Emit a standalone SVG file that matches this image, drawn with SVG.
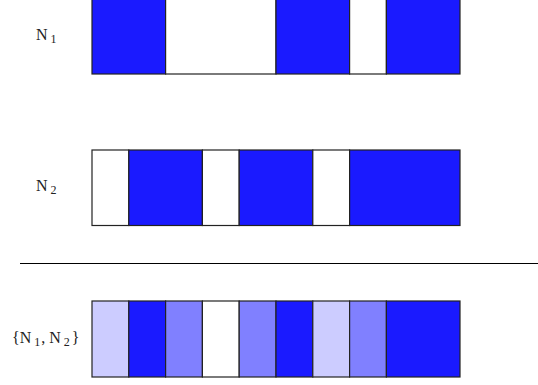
<svg xmlns="http://www.w3.org/2000/svg" width="538" height="385" viewBox="0 0 538 385">
<style>
.c rect{stroke:#222;stroke-width:1.2}
.b{fill:#1a1aff}.w{fill:#fff}.m{fill:#8080ff}.l{fill:#ccccff}
text{font-family:"Liberation Serif","DejaVu Serif",serif;font-size:16px;fill:#222}
.s{font-size:12px}
</style>
<rect width="538" height="385" fill="#fff"/>
<g id="row1" class="c">
<text x="36" y="40">N<tspan class="s" dx="3" dy="3">1</tspan></text>
<rect class="b" x="92" y="-2" width="73.6" height="76"/>
<rect class="w" x="165.6" y="-2" width="110.4" height="76"/>
<rect class="b" x="276" y="-2" width="73.6" height="76"/>
<rect class="w" x="349.6" y="-2" width="36.8" height="76"/>
<rect class="b" x="386.4" y="-2" width="73.6" height="76"/>
</g>
<g id="row2" class="c">
<text x="36" y="191">N<tspan class="s" dx="3" dy="3">2</tspan></text>
<rect class="w" x="92" y="150" width="36.8" height="75.5"/>
<rect class="b" x="128.8" y="150" width="73.6" height="75.5"/>
<rect class="w" x="202.4" y="150" width="36.8" height="75.5"/>
<rect class="b" x="239.2" y="150" width="73.6" height="75.5"/>
<rect class="w" x="312.8" y="150" width="36.8" height="75.5"/>
<rect class="b" x="349.6" y="150" width="110.4" height="75.5"/>
</g>
<g id="connectors">
<line x1="20" y1="263.5" x2="538" y2="263.5" stroke="#000" stroke-width="1.2"/>
</g>
<g id="row3" class="c">
<text x="12" y="343">{N<tspan class="s" dx="3" dy="3">1</tspan><tspan dx="1" dy="-3">, N</tspan><tspan class="s" dx="3" dy="3">2</tspan><tspan dx="2" dy="-3">}</tspan></text>
<rect class="l" x="92" y="301" width="36.8" height="76"/>
<rect class="b" x="128.8" y="301" width="36.8" height="76"/>
<rect class="m" x="165.6" y="301" width="36.8" height="76"/>
<rect class="w" x="202.4" y="301" width="36.8" height="76"/>
<rect class="m" x="239.2" y="301" width="36.8" height="76"/>
<rect class="b" x="276" y="301" width="36.8" height="76"/>
<rect class="l" x="312.8" y="301" width="36.8" height="76"/>
<rect class="m" x="349.6" y="301" width="36.8" height="76"/>
<rect class="b" x="386.4" y="301" width="73.6" height="76"/>
</g>
</svg>
